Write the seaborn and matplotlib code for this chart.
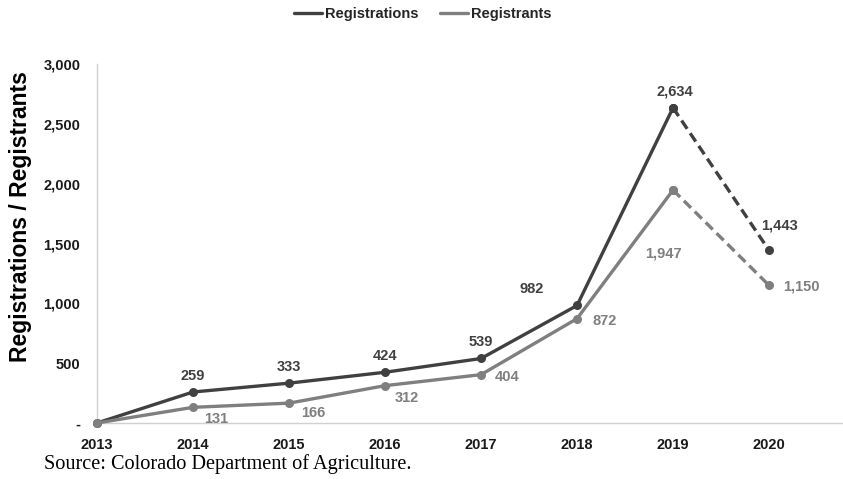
import pandas as pd
import matplotlib
matplotlib.use("Agg")
import matplotlib.pyplot as plt
import seaborn as sns

# data
years = [2013, 2014, 2015, 2016, 2017, 2018, 2019, 2020]
registrations = [0, 259, 333, 424, 539, 982, 2634, 1443]
registrants = [0, 131, 166, 312, 404, 872, 1947, 1150]
y_ticks = [0, 500, 1000, 1500, 2000, 2500, 3000]

# label offsets in pixels (dx, dy), one per year
reg_offsets = [None, (0, 16), (0, 16), (0, 16), (0, 16), (-45, 16), (2, 16), (10, 25)]
rant_offsets = [None, (23, -12), (24, -10), (22, -12), (26, -2), (28, -2), (-10, -63), (32, -1)]

dark = "#404040"
light = "#7f7f7f"

sns.set_theme(style="white")
plt.rcParams["font.family"] = ["Liberation Sans", "DejaVu Sans"]

df = pd.DataFrame({"year": years, "Registrations": registrations, "Registrants": registrants})
solid = df[df.year <= 2019]
dashed = df[df.year >= 2019]

fig = plt.figure(figsize=(8.43, 4.79), dpi=100)
ax = fig.add_axes([97 / 843, 56 / 479, 745 / 843, 359 / 479])

for col, color in [("Registrations", dark), ("Registrants", light)]:
    sns.lineplot(data=solid, x="year", y=col, color=color, linewidth=2.4,
                 marker="o", markersize=6.5, markeredgewidth=0, ax=ax, label=col,
                 clip_on=False, zorder=3)
    sns.lineplot(data=dashed, x="year", y=col, color=color, linewidth=2.4,
                 linestyle=(0, (3, 1.6)), marker="o", markersize=6.5,
                 markeredgewidth=0, ax=ax, label="_nolegend_", clip_on=False, zorder=3)

for vals, offs, color in [(registrations, reg_offsets, dark), (registrants, rant_offsets, light)]:
    for yr, v, off in zip(years, vals, offs):
        if off is None:
            continue
        ax.annotate(f"{v:,}", (yr, v), xytext=off, textcoords="offset pixels",
                    ha="center", va="center", fontsize=10.5, fontweight="bold", color=color)

ax.set_xlim(2013, 2020.76)
ax.set_ylim(0, 3000)
ax.set_xticks(years)
ax.set_xticklabels([str(y) for y in years])
ax.set_yticks(y_ticks)
ax.set_yticklabels(["-" if t == 0 else f"{t:,}" for t in y_ticks])
ax.tick_params(axis="both", length=0, labelsize=10.5, labelcolor="#1a1a1a")
ax.tick_params(axis="x", pad=11)
ax.tick_params(axis="y", pad=12)
for lbl in ax.get_xticklabels() + ax.get_yticklabels():
    lbl.set_fontweight("bold")

ax.set_xlabel("")
ax.set_ylabel("Registrations / Registrants", fontsize=16.5, fontweight="bold", color="black")
ax.yaxis.set_label_coords((32 - 97) / 745, 0.574)

sns.despine(ax=ax)
for s in ["left", "bottom"]:
    ax.spines[s].set_color("#d0d0d0")
    ax.spines[s].set_linewidth(1)

leg = ax.legend(loc="center", bbox_to_anchor=(423 / 843, 1 - 14 / 479),
                bbox_transform=fig.transFigure, ncol=2, frameon=False,
                handlelength=1.9, handletextpad=0.2, columnspacing=1.5,
                prop={"weight": "bold", "size": 10.5})
for h in leg.get_lines():
    h.set_marker("")
    h.set_linewidth(2.4)

fig.text(44 / 843, 1 - 464 / 479, "Source: Colorado Department of Agriculture.",
         family="Liberation Serif", fontsize=14.6, va="center", ha="left", color="black")

fig.savefig("out.png", dpi=100)
